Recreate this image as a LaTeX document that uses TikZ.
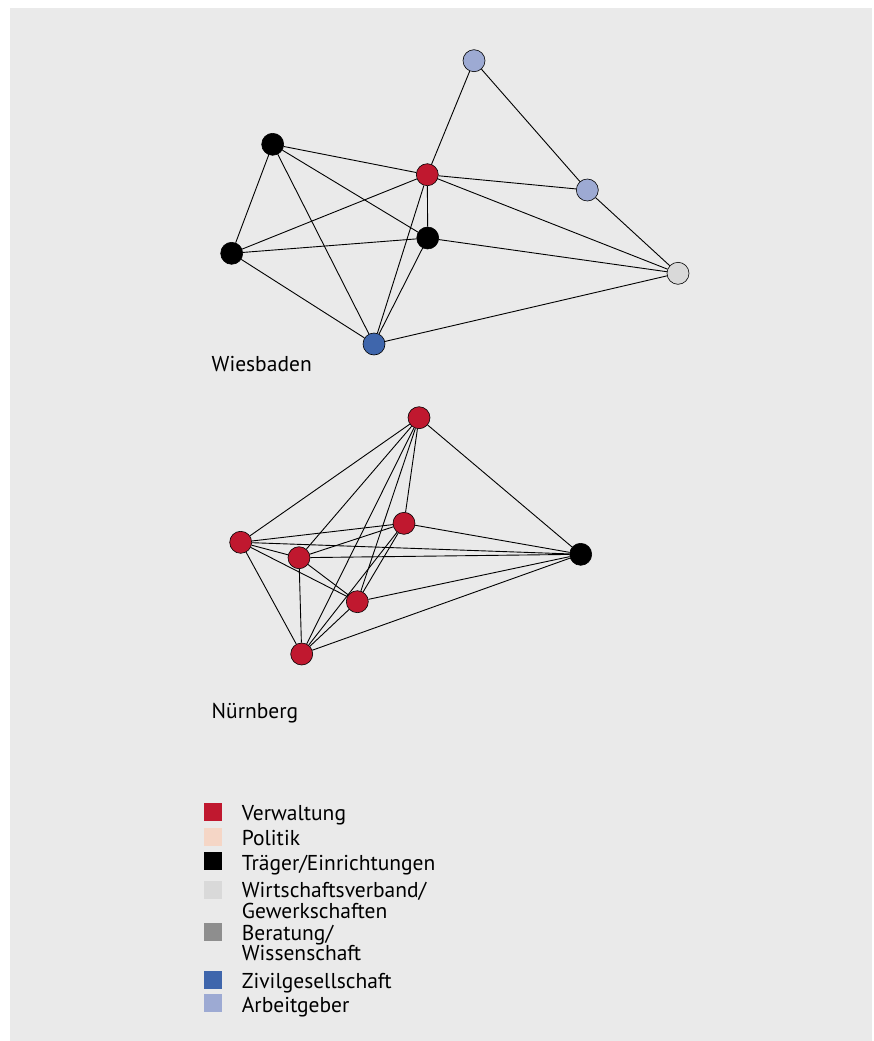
\documentclass[tikz,border=0pt]{standalone}
\usepackage{fontspec}
\setmainfont{PT Sans}
\usetikzlibrary{backgrounds}
\definecolor{bgc}{HTML}{EAEAEA}
\definecolor{cverw}{HTML}{C0182F}
\definecolor{cpol}{HTML}{F5D6C6}
\definecolor{ctrae}{HTML}{000000}
\definecolor{cwirt}{HTML}{D9D9D9}
\definecolor{cber}{HTML}{8E8E8E}
\definecolor{czivil}{HTML}{3F66AC}
\definecolor{carb}{HTML}{9DAAD3}
\tikzset{
  actor/.style={circle,draw=black,line width=0.6pt,minimum size=22pt,inner sep=0pt},
  edge/.style={draw=black,line width=0.9pt},
  lab/.style={anchor=base west,inner sep=0pt,font=\fontsize{21.5}{23}\selectfont},
  sq/.style={minimum size=18pt,inner sep=0pt},
}
\begin{document}
\begin{tikzpicture}[x=1pt,y=-1pt]
\useasboundingbox (0,0) rectangle (873,1041);
% Wiesbaden
\node[actor,fill=carb] (a1) at (474,60.7) {};
\node[actor,fill=carb] (a2) at (587.3,190) {};
\node[actor,fill=cverw] (r) at (427.3,174.7) {};
\node[actor,fill=ctrae] (b1) at (272.7,144.3) {};
\node[actor,fill=ctrae] (b2) at (231.7,253.3) {};
\node[actor,fill=ctrae] (b3) at (427.7,238) {};
\node[actor,fill=cwirt] (g) at (678,273.3) {};
\node[actor,fill=czivil] (z) at (374,344) {};
\node[lab] (wlab) at (211.5,371) {Wiesbaden};
% Nürnberg
\node[actor,fill=cverw] (nt) at (419,417.7) {};
\node[actor,fill=cverw] (nl) at (240.7,542.3) {};
\node[actor,fill=cverw] (nm) at (299,557.7) {};
\node[actor,fill=cverw] (nu) at (404,523.3) {};
\node[actor,fill=cverw] (nd) at (357.3,601.7) {};
\node[actor,fill=cverw] (nb) at (301.7,654) {};
\node[actor,fill=ctrae] (nk) at (580.7,554.3) {};
\node[lab] (nlab) at (211.5,718.3) {Nürnberg};
\begin{scope}[on background layer]
\fill[white] (0,0) rectangle (873,1041);
\fill[bgc] (10,8) rectangle (872,1041);
\foreach \u/\v in {a1/r,a1/a2,a2/g,r/a2,r/g,b1/r,b1/b2,b1/z,b1/b3,b2/r,b2/b3,b2/z,r/b3,r/z,b3/z,b3/g,z/g}
  \draw[edge] (\u) -- (\v);
\foreach \u/\v in {nt/nl,nt/nm,nt/nu,nt/nd,nt/nb,nt/nk,nl/nm,nl/nu,nl/nd,nl/nb,nl/nk,nm/nu,nm/nd,nm/nb,nm/nk,nu/nd,nu/nb,nu/nk,nd/nb,nd/nk,nb/nk}
  \draw[edge] (\u) -- (\v);
\end{scope}
% Legend
\node[sq,fill=cverw] (s1) at (212.5,811.7) {};
\node[sq,fill=cpol] (s2) at (212.5,836.7) {};
\node[sq,fill=ctrae] (s3) at (212.5,861.3) {};
\node[sq,fill=cwirt] (s4) at (212.5,890) {};
\node[sq,fill=cber] (s5) at (212.5,931.7) {};
\node[sq,fill=czivil] (s6) at (212.5,980) {};
\node[sq,fill=carb] (s7) at (212.5,1003.3) {};
\node[lab] (t1) at (241.7,820.7) {Verwaltung};
\node[lab] (t2) at (241.7,845) {Politik};
\node[lab] (t3) at (241.7,870) {Träger/Einrichtungen};
\node[lab] (t4) at (241.7,897) {Wirtschaftsverband/};
\node[lab] (t4b) at (241.7,918) {Gewerkschaften};
\node[lab] (t5) at (241.7,940) {Beratung/};
\node[lab] (t5b) at (241.7,960.5) {Wissenschaft};
\node[lab] (t6) at (241.7,988) {Zivilgesellschaft};
\node[lab] (t7) at (241.7,1012.7) {Arbeitgeber};
\end{tikzpicture}
\end{document}
